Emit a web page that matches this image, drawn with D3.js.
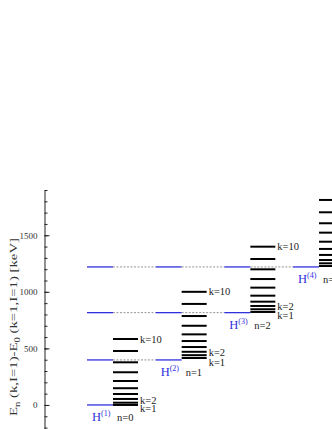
<!DOCTYPE html>
<html>
<head>
<meta charset="utf-8">
<script src="https://cdn.jsdelivr.net/npm/d3@7"></script>
<style>
  body { margin: 0; background: #fff; }
  text { font-family: "Liberation Serif", "DejaVu Serif", serif; }
</style>
</head>
<body>
<div id="chart"></div>
<script>
// band labels (n) and hamiltonian superscripts
var bands = ["n=0", "n=1", "n=2", "n=3"];
var hamiltonians = ["(1)", "(2)", "(3)", "(4)"];

// band-head energies (blue lines), keV
var bandHeads = [0, 398, 816, 1220];

// level energies k=1..10 for each band, keV
var band0 = [0, 20, 53, 97, 148, 212, 289, 377, 477, 583];
var band1 = [415, 440, 470, 512, 565, 624, 700, 786, 893, 1000];
var band2 = [822, 846, 875, 913, 966, 1037, 1113, 1199, 1290, 1399];
var band3 = [1228, 1252, 1281, 1326, 1379, 1443, 1523, 1606, 1703, 1812];
var levels = [band0, band1, band2, band3];

var majorTicks = [0, 500, 1000, 1500];

var width = 332, height = 429;

var svg = d3.select("#chart").append("svg")
    .attr("width", width)
    .attr("height", height);

var y = d3.scaleLinear()
    .domain([-300, 1900])
    .range([438.9, 190]);

// left edge of each band's black levels
var x = d3.scaleLinear()
    .domain([0, 3])
    .range([113, 319]);

var levelW = 25, headW = 26;
var blue = "#3030dd";

// minor ticks
svg.append("g")
    .attr("transform", "translate(44.5,0)")
    .call(d3.axisLeft(y).tickValues(d3.range(-300, 1901, 100))
      .tickSizeInner(-3).tickSizeOuter(0).tickFormat(""))
    .call(function(g) { g.selectAll("line").attr("stroke", "#222"); g.select(".domain").attr("stroke", "#222"); });

// major ticks + labels
svg.append("g")
    .attr("transform", "translate(44.5,0)")
    .call(d3.axisLeft(y).tickValues(majorTicks).tickFormat(d3.format("d"))
      .tickSizeInner(-5).tickSizeOuter(0).tickPadding(7))
    .call(function(g) {
      g.select(".domain").remove();
      g.selectAll("line").attr("stroke", "#222");
      g.selectAll("text").attr("font-size", 9).attr("fill", "#333")
        .attr("font-family", "Liberation Serif, serif");
    });

// y-axis label (stretched like the original)
var yl = svg.append("text")
    .attr("transform", "translate(17,327) rotate(-90)")
    .attr("text-anchor", "middle")
    .attr("font-size", 10.5)
    .attr("fill", "#333")
    .attr("textLength", 178)
    .attr("lengthAdjust", "spacingAndGlyphs");
yl.append("tspan").text("E");
yl.append("tspan").attr("font-size", 7.5).attr("dy", 3).text("n");
yl.append("tspan").attr("dy", -3).text(" (k,I=1)-E");
yl.append("tspan").attr("font-size", 7.5).attr("dy", 3).text("0");
yl.append("tspan").attr("dy", -3).text(" (k=1,I=1) [keV]");

// band heads: blue segments at every band up to this one, dashed links between
bandHeads.forEach(function(e, m) {
  for (var j = 0; j <= m; j++) {
    svg.append("line")
        .attr("x1", x(j) - headW).attr("x2", x(j))
        .attr("y1", y(e)).attr("y2", y(e))
        .attr("stroke", blue).attr("stroke-width", 1.3);
    if (j < m) {
      svg.append("line")
          .attr("x1", x(j)).attr("x2", x(j + 1) - headW)
          .attr("y1", y(e)).attr("y2", y(e))
          .attr("stroke", "#666").attr("stroke-width", 0.7)
          .attr("stroke-dasharray", "2,1.5");
    }
  }
});

// black level lines
levels.forEach(function(band, n) {
  svg.selectAll(".lev" + n)
      .data(band)
    .enter().append("line")
      .attr("class", "lev" + n)
      .attr("x1", x(n)).attr("x2", x(n) + levelW)
      .attr("y1", function(d) { return y(d); })
      .attr("y2", function(d) { return y(d); })
      .attr("stroke", "#000").attr("stroke-width", 2);

  var lx = x(n) + levelW + 2;
  [[9, "k=10", 3.5], [1, "k=2", 1], [0, "k=1", 7.5]].forEach(function(t) {
    svg.append("text")
        .attr("x", lx).attr("y", y(band[t[0]]) + t[2])
        .attr("font-size", 10.5).attr("fill", "#222")
        .text(t[1]);
  });

  // H^(n) label
  var h = svg.append("text")
      .attr("x", x(n) - 21).attr("y", y(bandHeads[n]) + 16)
      .attr("font-size", 12.5).attr("fill", blue);
  h.append("tspan").text("H");
  h.append("tspan").attr("font-size", 8).attr("dy", -5).text(hamiltonians[n]);

  svg.append("text")
      .attr("x", x(n) + 4).attr("y", y(bandHeads[n]) + 16)
      .attr("font-size", 10.5).attr("fill", "#222")
      .text(bands[n]);
});
</script>
</body>
</html>
